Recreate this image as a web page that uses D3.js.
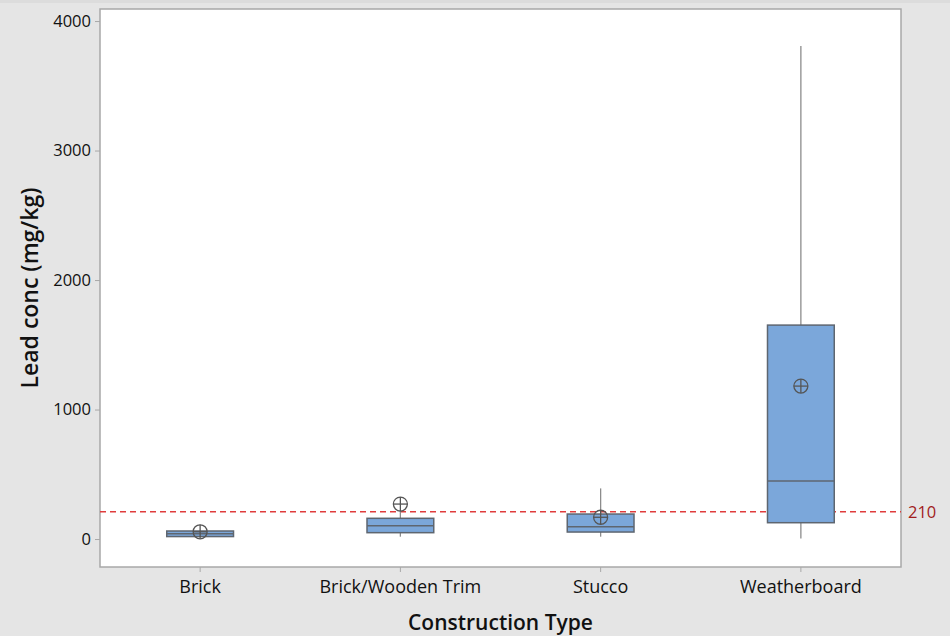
<!DOCTYPE html>
<html>
<head>
<meta charset="utf-8">
<script src="https://cdn.jsdelivr.net/npm/d3@7"></script>
<style>
  html, body { margin: 0; padding: 0; background: #e5e5e5; }
  svg { display: block; font-family: "Open Sans", "Noto Sans", sans-serif; }
  svg text { font-family: "Open Sans", "Noto Sans", sans-serif; }
</style>
</head>
<body>
<svg id="chart" width="950" height="636"></svg>
<script>
// Lead concentration (mg/kg) by construction type
const categories = ["Brick", "Brick/Wooden Trim", "Stucco", "Weatherboard"];
const whiskerLow  = [20, 18, 18, 5];
const q1          = [19, 49, 54, 126];
const median      = [40, 103, 95, 448];
const q3          = [62, 160, 193, 1652];
const whiskerHigh = [62, 225, 391, 3807];
const means       = [56, 270, 168, 1181];
const yTicks = [0, 1000, 2000, 3000, 4000];
const refValue = 210;

const W = 950, H = 636;
const margin = { left: 100, right: 49, top: 9, bottom: 69 };
const svg = d3.select("#chart");

// top strip
svg.append("rect").attr("x", 0).attr("y", 0).attr("width", W).attr("height", 3).attr("fill", "#dcdcdc");

const x = d3.scaleBand().domain(categories)
  .range([margin.left, W - margin.right]).paddingInner(0).paddingOuter(0);
const y = d3.scaleLinear().domain([-216, 4093]).range([H - margin.bottom, margin.top]);

// plot area
svg.append("rect")
  .attr("x", margin.left).attr("y", margin.top)
  .attr("width", W - margin.left - margin.right)
  .attr("height", H - margin.top - margin.bottom)
  .attr("fill", "#ffffff").attr("stroke", "#a8a8a8").attr("stroke-width", 1.5);

// axes
const yAxis = svg.append("g").attr("transform", `translate(${margin.left},0)`)
  .call(d3.axisLeft(y).tickValues(yTicks).tickSize(5).tickPadding(4).tickFormat(d3.format("d")));
const xAxis = svg.append("g").attr("transform", `translate(0,${H - margin.bottom})`)
  .call(d3.axisBottom(x).tickSize(5).tickPadding(8));
[yAxis, xAxis].forEach(g => {
  g.attr("font-family", null);
  g.select(".domain").remove();
  g.selectAll(".tick line").attr("stroke", "#a8a8a8");
  g.selectAll(".tick text").attr("fill", "#111").style("font-weight", 500);
});
yAxis.selectAll(".tick text").style("font-size", "16.5px");
xAxis.selectAll(".tick text").style("font-size", "18px");

// reference line
svg.append("line")
  .attr("x1", margin.left).attr("x2", W - margin.right)
  .attr("y1", y(refValue)).attr("y2", y(refValue))
  .attr("stroke", "#e03c3c").attr("stroke-width", 1.5).attr("stroke-dasharray", "6,4");
svg.append("text")
  .attr("x", W - margin.right + 7).attr("y", y(refValue))
  .attr("dy", "0.35em").attr("fill", "#a11c1c").style("font-size", "16.5px")
  .text(refValue);

// boxes
const bw = x.bandwidth() / 3;
const boxes = svg.append("g").selectAll("g").data(categories).join("g")
  .attr("transform", d => `translate(${x(d) + x.bandwidth() / 2},0)`);

boxes.append("line")
  .attr("x1", 0).attr("x2", 0)
  .attr("y1", (d, i) => y(whiskerHigh[i])).attr("y2", (d, i) => y(q3[i]))
  .attr("stroke", "#8c8c8c").attr("stroke-width", 1.3);
boxes.append("line")
  .attr("x1", 0).attr("x2", 0)
  .attr("y1", (d, i) => y(q1[i])).attr("y2", (d, i) => y(whiskerLow[i]))
  .attr("stroke", "#8c8c8c").attr("stroke-width", 1.3);
boxes.append("rect")
  .attr("x", -bw / 2).attr("width", bw)
  .attr("y", (d, i) => y(q3[i]))
  .attr("height", (d, i) => y(q1[i]) - y(q3[i]))
  .attr("fill", "#7ba7da").attr("stroke", "#5e6670").attr("stroke-width", 1.5);
boxes.append("line")
  .attr("x1", -bw / 2).attr("x2", bw / 2)
  .attr("y1", (d, i) => y(median[i])).attr("y2", (d, i) => y(median[i]))
  .attr("stroke", "#5e6670").attr("stroke-width", 1.5);

// mean symbols (circled plus)
const r = 7;
const meanG = boxes.append("g").attr("transform", (d, i) => `translate(0,${y(means[i])})`);
meanG.append("circle").attr("r", r).attr("fill", "none").attr("stroke", "#555").attr("stroke-width", 1.3);
meanG.append("line").attr("x1", -r).attr("x2", r).attr("stroke", "#555").attr("stroke-width", 1.3);
meanG.append("line").attr("y1", -r).attr("y2", r).attr("stroke", "#555").attr("stroke-width", 1.3);

// axis titles
svg.append("text")
  .attr("transform", `translate(38,${(margin.top + H - margin.bottom) / 2}) rotate(-90)`)
  .attr("text-anchor", "middle").attr("fill", "#111")
  .style("font-size", "23px").style("font-weight", 600)
  .text("Lead conc (mg/kg)");
svg.append("text")
  .attr("x", (margin.left + W - margin.right) / 2).attr("y", 630)
  .attr("text-anchor", "middle").attr("fill", "#111")
  .style("font-size", "21px").style("font-weight", 600)
  .text("Construction Type");
</script>
</body>
</html>
